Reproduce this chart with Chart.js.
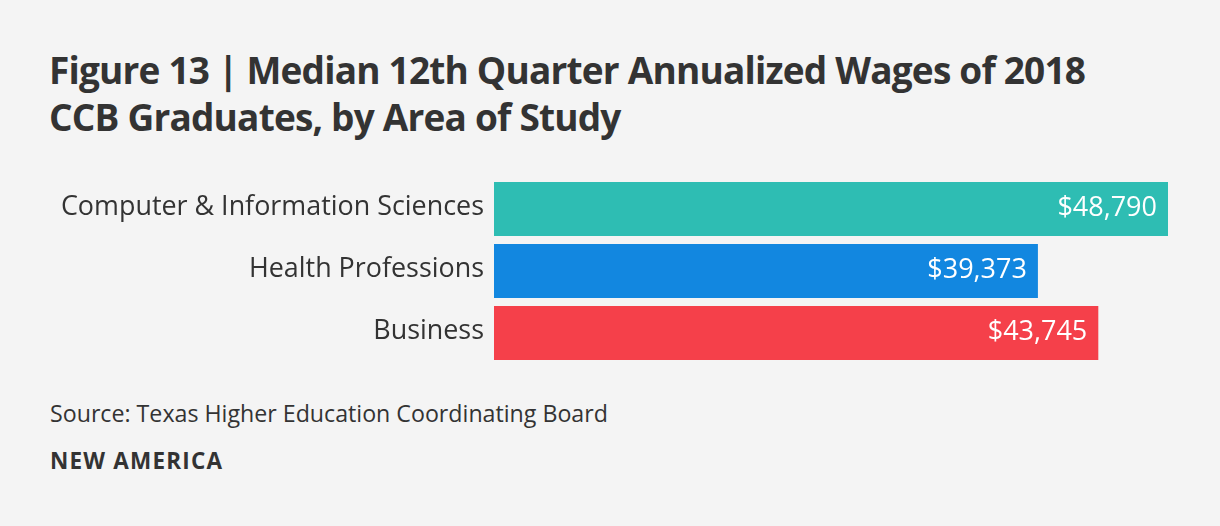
<!DOCTYPE html>
<html>
<head>
<meta charset="utf-8">
<script src="https://cdn.jsdelivr.net/npm/chart.js@4.4.1/dist/chart.umd.min.js"></script>
<style>
  html, body { margin: 0; padding: 0; background: #f4f4f4; }
  body { width: 1220px; height: 526px; position: relative; overflow: hidden; font-family: "Open Sans", sans-serif; color: #333; }
  #title { position: absolute; left: 49px; top: 46px; font-size: 37px; font-weight: 700; line-height: 47px; letter-spacing: -0.8px; white-space: nowrap; }
  #chartBox { position: absolute; left: 0; top: 178px; width: 1220px; height: 186px; }
  #source { position: absolute; left: 50px; top: 398px; font-size: 23.2px; line-height: 30px; white-space: nowrap; }
  #brand { position: absolute; left: 50px; top: 446px; font-size: 22.5px; font-weight: 700; line-height: 30px; letter-spacing: 1.2px; white-space: nowrap; }
</style>
</head>
<body>
<div id="title">Figure 13 | Median 12th Quarter Annualized Wages of 2018<br>CCB Graduates, by Area of Study</div>
<div id="chartBox"><canvas id="wagesChart"></canvas></div>
<div id="source">Source: Texas Higher Education Coordinating Board</div>
<div id="brand">NEW AMERICA</div>
<script>
var areas = ['Computer & Information Sciences', 'Health Professions', 'Business'];
var medianWages = [48790, 39373, 43745];
var barColors = ['#2ebdb3', '#1287e0', '#f5404a'];

// white value labels inside the bar end
var valueLabels = {
    id: 'valueLabels',
    afterDatasetsDraw: function(chart) {
        var ctx = chart.ctx;
        var meta = chart.getDatasetMeta(0);
        ctx.save();
        ctx.fillStyle = '#ffffff';
        ctx.font = '27px "Open Sans", sans-serif';
        ctx.textAlign = 'right';
        ctx.textBaseline = 'middle';
        meta.data.forEach(function(bar, i) {
            ctx.fillText('$' + medianWages[i].toLocaleString('en-US'), bar.x - 11, bar.y - 1);
        });
        ctx.restore();
    }
};

var wages = document.getElementById('wagesChart').getContext('2d');
var wagesChart = new Chart(wages, {
    type: 'bar',
    data: {
        labels: areas,
        datasets: [{
            data: medianWages,
            backgroundColor: barColors,
            borderWidth: 0,
            categoryPercentage: 1,
            barPercentage: 0.871
        }]
    },
    options: {
        indexAxis: 'y',
        responsive: true,
        maintainAspectRatio: false,
        animation: false,
        layout: { padding: { left: 0, right: 52, top: 0, bottom: 0 } },
        plugins: { legend: { display: false }, tooltip: { enabled: false } },
        scales: {
            x: { display: false, min: 0, max: 48790 },
            y: {
                grid: { display: false, drawTicks: false },
                border: { display: false },
                ticks: { color: '#333', padding: 10, labelOffset: -2, font: { family: 'Open Sans', size: 26.9 } },
                afterFit: function(scale) {
                    scale.width = 494;
                    scale.paddingTop = 0;
                    scale.paddingBottom = 0;
                }
            }
        }
    },
    plugins: [valueLabels]
});
</script>
</body>
</html>
